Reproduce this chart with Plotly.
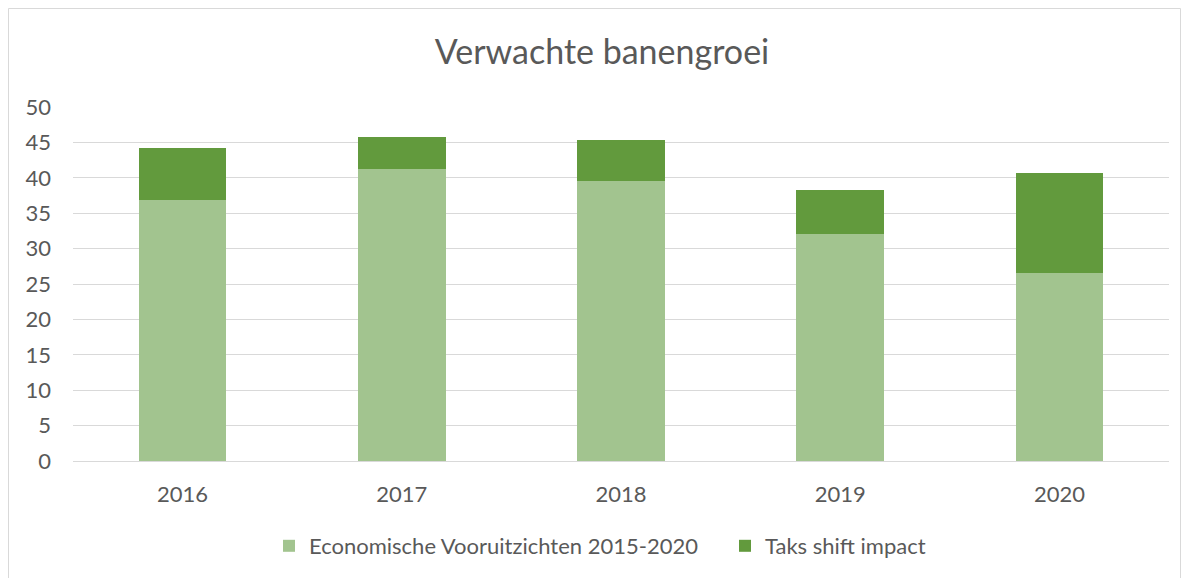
import plotly.graph_objects as go

years = ["2016", "2017", "2018", "2019", "2020"]
economische = [36.8, 41.2, 39.5, 32.1, 26.5]
taks_shift = [7.4, 4.6, 5.8, 6.2, 14.2]

# page body has an 8px margin, so the figure is drawn offset by 8px
OFF = 8
W, H = 1189 - OFF, 578 - OFF
ml, mr, mt, mb = 73 - OFF, 20, 107 - OFF, 117
pw, ph = W - ml - mr, H - mt - mb

def px_x(x):
    return (x - OFF - ml) / pw

def px_y(y):
    return (H - mb - (y - OFF)) / ph

txt = "#595959"
font = "Lato, 'Open Sans', sans-serif"

fig = go.Figure()
fig.add_trace(go.Bar(x=years, y=economische, name="Economische Vooruitzichten 2015-2020",
                     marker=dict(color="#A2C48F", line=dict(width=0)), legend="legend",
                     showlegend=True))
fig.add_trace(go.Bar(x=years, y=taks_shift, name="Taks shift impact",
                     marker=dict(color="#629A3D", line=dict(width=0)), legend="legend2",
                     showlegend=True))

leg_common = dict(orientation="h", yanchor="middle", xanchor="left", visible=True,
                  font=dict(size=22, color=txt, family=font), bgcolor="rgba(0,0,0,0)")

fig.update_layout(
    width=W, height=H, barmode="stack", bargap=0.6, showlegend=True,
    margin=dict(l=ml, r=mr, t=mt, b=mb, autoexpand=False),
    paper_bgcolor="white", plot_bgcolor="white",
    font=dict(family=font, color=txt, size=22),
    title=dict(text="Verwachte banengroei", xref="container", x=(602 - OFF) / W, xanchor="center",
               y=1 - (52 - OFF) / H, yanchor="middle",
               font=dict(size=34, color=txt, family=font)),
    xaxis=dict(showgrid=False, showline=True, linecolor="#D9D9D9", linewidth=1, automargin=False,
               ticks="", ticklabelstandoff=14, tickfont=dict(size=22, color=txt)),
    yaxis=dict(range=[0, 50], dtick=5, showgrid=True, gridcolor="#D9D9D9", gridwidth=1,
               zeroline=False, showline=False, ticks="", ticklabelstandoff=21, automargin=False,
               tickfont=dict(size=22, color=txt)),
    legend=dict(x=px_x(269), y=px_y(546), **leg_common),
    legend2=dict(x=px_x(725), y=px_y(546), **leg_common),
    hovermode=False,
    shapes=[dict(type="rect", xref="paper", yref="paper",
                 x0=px_x(8.5), x1=px_x(1180.5), y0=px_y(600), y1=px_y(8.5),
                 line=dict(color="#D9D9D9", width=1), fillcolor="rgba(0,0,0,0)", layer="below")],
)

fig.write_html("out.html")
